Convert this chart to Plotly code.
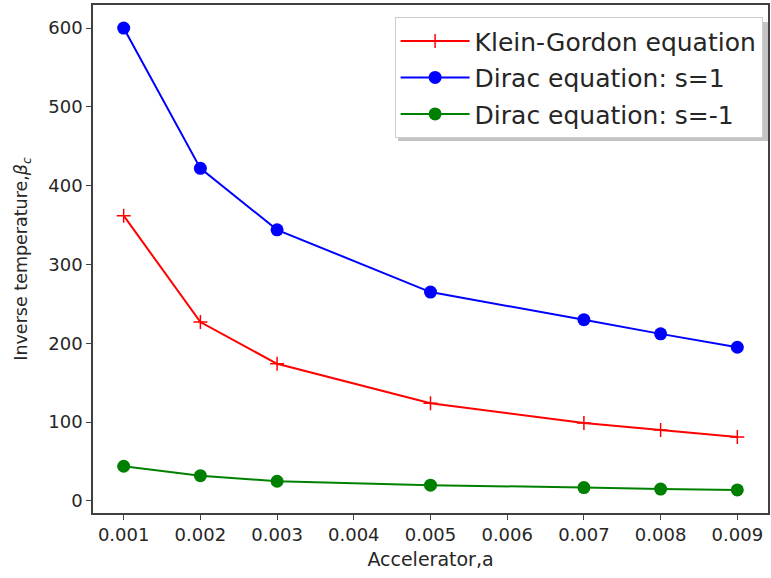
import plotly.graph_objects as go

accel = [0.001, 0.002, 0.003, 0.005, 0.007, 0.008, 0.009]
klein_gordon = [362, 227, 174, 124, 99, 90, 81]
dirac_s1 = [600, 422, 344, 265, 230, 212, 195]
dirac_sm1 = [44, 32, 25, 20, 17, 15, 14]
x_ticks = [0.001, 0.002, 0.003, 0.004, 0.005, 0.006, 0.007, 0.008, 0.009]
y_ticks = [0, 100, 200, 300, 400, 500, 600]

fig = go.Figure()
fig.add_trace(go.Scatter(x=accel, y=klein_gordon, mode="lines+markers", name="Klein-Gordon equation",
                         legendgroup="a",
                         line=dict(color="#ff0000", width=2),
                         marker=dict(symbol="cross-thin", size=10, line=dict(color="#ff0000", width=1.5))))
fig.add_trace(go.Scatter(x=accel, y=dirac_s1, mode="lines+markers", name="Dirac equation: s=1",
                         legendgroup="b",
                         line=dict(color="#0000ff", width=2),
                         marker=dict(symbol="circle", size=13, color="#0000ff")))
fig.add_trace(go.Scatter(x=accel, y=dirac_sm1, mode="lines+markers", name="Dirac equation: s=-1",
                         legendgroup="c",
                         line=dict(color="#008000", width=2),
                         marker=dict(symbol="circle", size=13, color="#008000")))

axis_common = dict(showline=True, linecolor="#404040", linewidth=1.5, mirror=True,
                   ticks="outside", ticklen=5, tickcolor="#404040", showgrid=False, zeroline=False,
                   tickfont=dict(family="DejaVu Sans", size=18, color="#262626"))

fig.update_xaxes(range=[0.0006, 0.0094], tickvals=x_ticks,
                 ticktext=[f"{v:.3f}" for v in x_ticks],
                 title=dict(text="Accelerator,a", font=dict(family="DejaVu Sans", size=19, color="#262626"), standoff=8),
                 **axis_common)
fig.update_yaxes(range=[-15.3, 629.3], tickvals=y_ticks,
                 title=dict(text="Inverse temperature,<i>β</i><sub><i>c</i></sub>", font=dict(family="DejaVu Sans", size=17.5, color="#262626"), standoff=16),
                 **axis_common)

# legend shadow
fig.add_shape(type="rect", xref="paper", yref="paper", x0=(399 - 93) / 677, x1=(770 - 93) / 677,
              y0=(513 - 141) / 508, y1=(513 - 22) / 508, fillcolor="#c4c4c4", line=dict(width=0), layer="above")

fig.update_layout(
    width=771, height=578,
    margin=dict(l=93, r=1, t=5, b=65),
    plot_bgcolor="white", paper_bgcolor="white",
    font=dict(family="DejaVu Sans", color="#262626"),
    legend=dict(x=0.992, y=0.976, xanchor="right", yanchor="top",
                bgcolor="white", bordercolor="#cccccc", borderwidth=1,
                font=dict(family="DejaVu Sans", size=25, color="#262626"),
                itemwidth=69, tracegroupgap=1),
    showlegend=True,
)
fig.write_html("out.html")
